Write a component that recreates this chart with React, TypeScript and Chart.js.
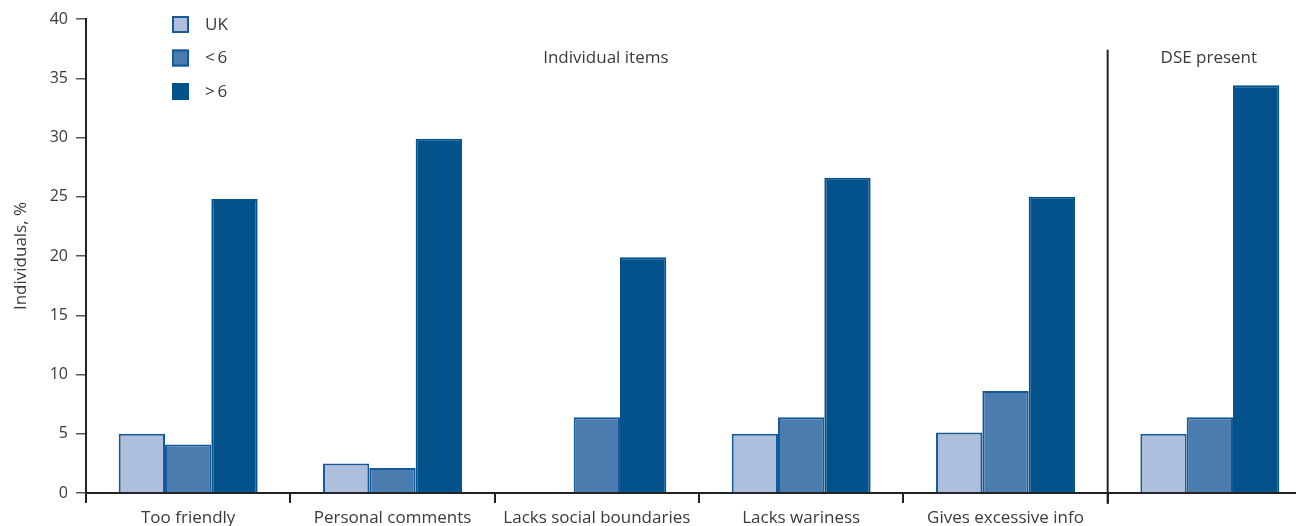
import React, { useEffect, useRef } from "react";
import { Chart, registerables } from "chart.js";

Chart.register(...registerables);

const categories = [
  "Too friendly",
  "Personal comments",
  "Lacks social boundaries",
  "Lacks wariness",
  "Gives excessive info",
  "",
];
const seriesLabels = ["UK", "<\u20096", ">\u20096"];
const ukValues = [5.0, 2.5, null, 5.0, 5.1, 5.0];
const under6Values = [4.1, 2.1, 6.4, 6.4, 8.6, 6.4];
const over6Values = [24.8, 29.9, 19.9, 26.6, 25.0, 34.4];
const yTicks = [0, 5, 10, 15, 20, 25, 30, 35, 40];
const groupTitles = ["Individual items", "DSE present"];

const fills = ["#adbfdc", "#4a7caf", "#03528c"];
const borders = ["#15599a", "#15599a", "#03528c"];
const FONT = "'Open Sans', 'Noto Sans', sans-serif";
const TEXT = "#3a3a3a";

export default function App() {
  const ref = useRef<HTMLCanvasElement | null>(null);

  useEffect(() => {
    if (!ref.current) return;
    const overlay = {
      id: "overlay",
      afterDatasetsDraw(chart: any) {
        const ctx = chart.ctx;
        const x = chart.scales.x;
        const y = chart.scales.y;
        ctx.save();
        // separator between item groups
        const sepX = (x.getPixelForValue(4) + x.getPixelForValue(5)) / 2;
        ctx.strokeStyle = "#222";
        ctx.lineWidth = 2;
        ctx.beginPath();
        ctx.moveTo(sepX, y.getPixelForValue(37.4));
        ctx.lineTo(sepX, y.getPixelForValue(0) + 11);
        ctx.stroke();
        // group titles
        ctx.fillStyle = TEXT;
        ctx.font = `17px ${FONT}`;
        ctx.textAlign = "center";
        ctx.textBaseline = "middle";
        ctx.fillText(groupTitles[0], x.getPixelForValue(2) + 9, 58);
        ctx.fillText(groupTitles[1], x.getPixelForValue(5) - 1, 58);
        // legend
        const ds = chart.data.datasets;
        ds.forEach((d: any, i: number) => {
          const top = 16 + i * 33.5;
          ctx.fillStyle = d.backgroundColor;
          ctx.fillRect(172, top, 17, 17);
          ctx.strokeStyle = d.borderColor;
          ctx.lineWidth = 2;
          ctx.strokeRect(173, top + 1, 15, 15);
          ctx.fillStyle = TEXT;
          ctx.textAlign = "left";
          ctx.fillText(d.label, 205, top + 9);
        });
        ctx.restore();
      },
    };

    const mk = (label: string, data: (number | null)[], i: number) => ({
      label,
      data,
      backgroundColor: fills[i],
      borderColor: borders[i],
      borderWidth: 2,
      borderSkipped: "bottom" as const,
      barPercentage: 1,
      categoryPercentage: 0.68,
    });

    const chart = new Chart(ref.current, {
      type: "bar",
      data: {
        labels: categories,
        datasets: [
          mk(seriesLabels[0], ukValues, 0),
          mk(seriesLabels[1], under6Values, 1),
          mk(seriesLabels[2], over6Values, 2),
        ],
      },
      options: {
        responsive: false,
        animation: false,
        layout: { padding: { top: 19, right: 0, left: 0, bottom: 0 } },
        plugins: {
          legend: { display: false },
          tooltip: { enabled: false },
        },
        scales: {
          x: {
            offset: true,
            grid: {
              offset: true,
              drawOnChartArea: false,
              drawTicks: true,
              tickLength: 10,
              color: "#222",
              lineWidth: 2,
            },
            border: { display: true, color: "#222", width: 2 },
            ticks: {
              color: TEXT,
              font: { family: FONT, size: 17 },
              padding: 5,
              maxRotation: 0,
              autoSkip: false,
            },
            afterFit: (s: any) => {
              s.height = 33;
            },
          },
          y: {
            min: 0,
            max: 40,
            afterBuildTicks: (s: any) => {
              s.ticks = yTicks.map((v) => ({ value: v }));
            },
            grid: {
              drawOnChartArea: false,
              drawTicks: true,
              tickLength: 10,
              color: "#555",
              lineWidth: 1.5,
            },
            border: { display: true, color: "#222", width: 2 },
            ticks: {
              color: TEXT,
              font: { family: FONT, size: 16 },
              padding: 8,
            },
            title: {
              display: true,
              text: "Individuals, %",
              color: TEXT,
              font: { family: FONT, size: 17 },
              padding: { top: 11, bottom: 0 },
            },
            afterFit: (s: any) => {
              s.width = 86;
            },
          },
        },
      },
      plugins: [overlay],
    });
    return () => chart.destroy();
  }, []);

  return (
    <div style={{ position: "absolute", left: 0, top: 0, width: 1296, height: 526, overflow: "hidden", background: "#fff" }}>
      <canvas ref={ref} width={1312} height={526} />
    </div>
  );
}
